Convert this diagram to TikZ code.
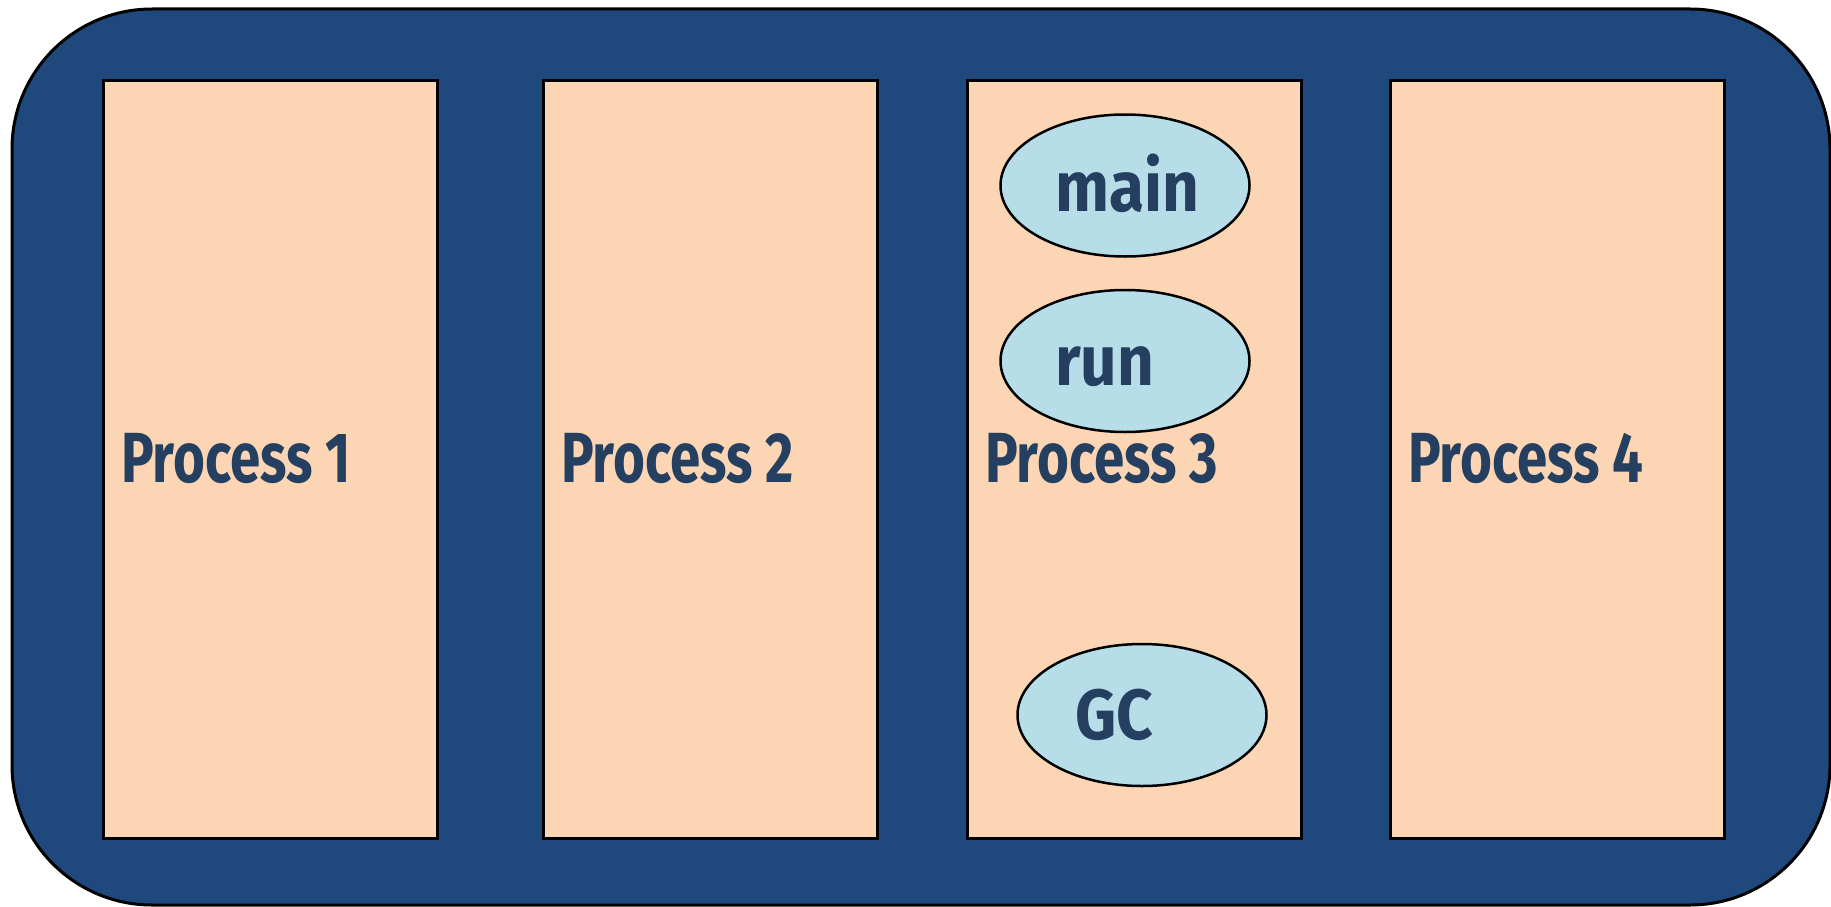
\documentclass[tikz,border=0pt]{standalone}
\usepackage{fontspec}
\usetikzlibrary{shapes.geometric}
\newfontfamily\procfont{Fira Sans}[FakeStretch=0.77]
\newfontfamily\threadfont{Fira Sans}[FakeStretch=0.9]
\definecolor{frame}{HTML}{1F497D}
\definecolor{procfill}{HTML}{FCD5B5}
\definecolor{threadfill}{HTML}{B7DEE8}
\definecolor{ink}{HTML}{243F60}
\begin{document}
\begin{tikzpicture}[x=1pt,y=-1pt,
  procbox/.style={draw=black,line width=2.5pt,fill=procfill,rectangle,
    anchor=north west,minimum width=334pt,minimum height=758pt,inner sep=0pt},
  threadbox/.style={draw=black,line width=2.5pt,fill=threadfill,ellipse,
    minimum width=249pt,minimum height=142pt,inner sep=0pt},
  lbl/.style={anchor=base west,inner sep=0pt,text=ink},
  proclbl/.style={lbl,font=\procfont\bfseries\fontsize{71}{84}\selectfont},
  threadlbl/.style={lbl,font=\threadfont\bfseries\fontsize{71}{84}\selectfont}]
  \useasboundingbox (0,0) rectangle (1831,907);
  % machine frame
  \draw[line width=3pt,fill=frame,rounded corners=140pt] (12,9) rectangle (1830,905);
  % processes
  \node[procbox] (p1) at (102,79) {};
  \node[procbox] (p2) at (542,79) {};
  \node[procbox] (p3) at (966,79) {};
  \node[procbox] (p4) at (1389,79) {};
  \node[proclbl] (t1) at (121,482) {Process 1};
  \node[proclbl] (t2) at (561,482) {Process 2};
  \node[proclbl] (t3) at (985,482) {Process 3};
  \node[proclbl] (t4) at (1408,482) {Process 4};
  % threads of process 3
  \node[threadbox] (main) at (1125,185.5) {};
  \node[threadbox] (run) at (1125,361) {};
  \node[threadbox] (gc) at (1142,715) {};
  \node[threadlbl] (tmain) at (1055,211) {main};
  \node[threadlbl] (trun) at (1055,385) {run};
  \node[threadlbl] (tgc) at (1075,739) {GC};
\end{tikzpicture}
\end{document}
